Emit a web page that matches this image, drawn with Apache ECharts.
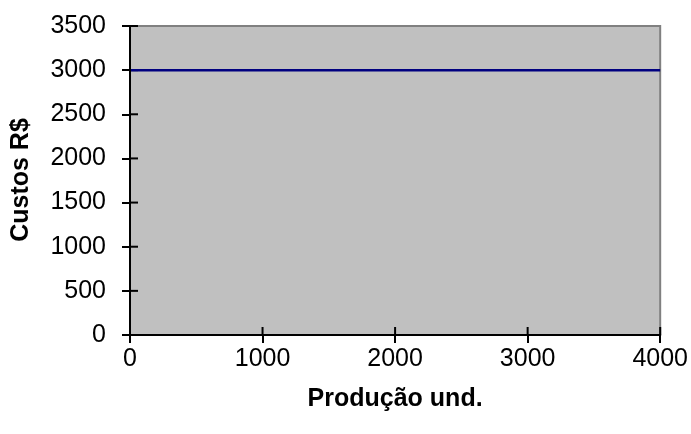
<!DOCTYPE html>
<html>
<head>
<meta charset="utf-8">
<script src="https://cdn.jsdelivr.net/npm/echarts@6/dist/echarts.min.js"></script>
<style>
  html, body { margin: 0; padding: 0; background: #fff; }
  #chart { width: 691px; height: 434px; }
</style>
</head>
<body>
<div id="chart"></div>
<script>
// Fixed cost: constant across production volume
var producao = [0, 1000, 2000, 3000, 4000];
var custos = [3000, 3000, 3000, 3000, 3000];
var xTicks = [0, 1000, 2000, 3000, 4000];
var yTicks = [0, 500, 1000, 1500, 2000, 2500, 3000, 3500];

var xTitle = 'Produção und.';
var yTitle = 'Custos R$';

var FONT = '"Liberation Sans", Arial, sans-serif';
var TICK_IN = 8;

var points = producao.map(function (p, i) { return [p, custos[i]]; });

var chart = echarts.init(document.getElementById('chart'), null, { renderer: 'canvas' });

var plain = function (v) { return String(v); };
var labelStyle = { color: '#000', fontFamily: FONT, fontSize: 25, formatter: plain };
var tickStyle = { color: '#000', width: 2 };

// Inner half of the crossing tick marks, placed through the axis scales
function innerTicks(horizontal) {
  return function (params, api) {
    var p = api.coord([api.value(0), api.value(1)]);
    var shape = horizontal
      ? { x1: p[0], y1: p[1], x2: p[0], y2: p[1] - TICK_IN }
      : { x1: p[0], y1: p[1], x2: p[0] + TICK_IN, y2: p[1] };
    return { type: 'line', shape: shape, style: { stroke: '#000', lineWidth: 2 } };
  };
}

chart.setOption({
  animation: false,
  grid: {
    left: 130, top: 26, right: 30, bottom: 99,
    show: true,
    backgroundColor: '#C0C0C0',
    borderColor: '#808080',
    borderWidth: 2
  },
  graphic: [{
    type: 'text',
    x: 21, y: 180,
    rotation: Math.PI / 2,
    z: 10,
    style: {
      text: yTitle,
      fill: '#000',
      font: 'bold 25px ' + FONT,
      align: 'center',
      verticalAlign: 'middle'
    }
  }],
  xAxis: {
    type: 'value',
    min: 0, max: 4000, interval: 1000,
    name: xTitle,
    nameLocation: 'middle',
    nameGap: 52,
    nameTextStyle: { color: '#000', fontFamily: FONT, fontSize: 25, fontWeight: 'bold' },
    axisLine: { show: true, lineStyle: { color: '#000', width: 2 } },
    axisTick: { show: true, inside: false, length: 8, lineStyle: tickStyle },
    axisLabel: Object.assign({ margin: 12 }, labelStyle),
    splitLine: { show: false },
    z: 4
  },
  yAxis: {
    type: 'value',
    min: 0, max: 3500, interval: 500,
    axisLine: { show: true, lineStyle: { color: '#000', width: 2 } },
    axisTick: { show: true, inside: false, length: 8, lineStyle: tickStyle },
    axisLabel: Object.assign({ margin: 24 }, labelStyle),
    splitLine: { show: false },
    z: 4
  },
  series: [{
    type: 'custom',
    data: xTicks.map(function (v) { return [v, 0]; }),
    renderItem: innerTicks(true),
    clip: false,
    silent: true,
    z: 2
  }, {
    type: 'custom',
    data: yTicks.map(function (v) { return [0, v]; }),
    renderItem: innerTicks(false),
    clip: false,
    silent: true,
    z: 2
  }, {
    type: 'line',
    data: points,
    showSymbol: false,
    symbol: 'none',
    lineStyle: { color: '#000080', width: 2.5 },
    z: 3
  }]
});
</script>
</body>
</html>
